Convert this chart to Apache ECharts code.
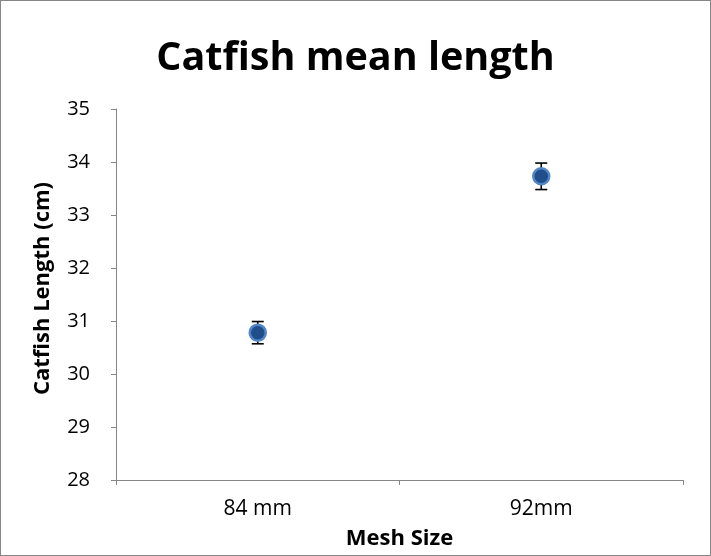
<!DOCTYPE html>
<html>
<head>
<meta charset="utf-8">
<script src="https://cdn.jsdelivr.net/npm/echarts@6/dist/echarts.min.js"></script>
<style>
html, body { margin: 0; padding: 0; background: #fff; }
#chart { width: 711px; height: 556px; box-sizing: border-box; border: 1px solid #868686; }
</style>
</head>
<body>
<div id="chart"></div>
<script>
// 数据
var categories = ['84 mm', '92mm'];
var meanLength = [30.78, 33.73];
var errLow = [30.57, 33.48];
var errHigh = [30.99, 33.98];

var chart = echarts.init(document.getElementById('chart'));
var font = '"Open Sans", "Liberation Sans", sans-serif';

var errData = [];
for (var i = 0; i < categories.length; i++) {
	errData.push([i, errLow[i], errHigh[i]]);
}

var option = {
	animation: false,
	backgroundColor: '#fff',
	title: {
		text: 'Catfish mean length',
		left: 'center',
		top: 33,
		textStyle: { fontFamily: font, fontSize: 39.5, fontWeight: 'bold', color: '#000' }
	},
	grid: { left: 115, right: 27, top: 108, bottom: 72 },
	xAxis: {
		type: 'category',
		data: categories,
		boundaryGap: true,
		name: 'Mesh Size',
		nameLocation: 'middle',
		nameGap: 48,
		nameTextStyle: { fontFamily: font, fontSize: 22, fontWeight: 'bold', color: '#000' },
		axisLine: { lineStyle: { color: '#868686', width: 1 } },
		axisTick: { show: true, length: 5, inside: false, lineStyle: { color: '#868686' } },
		axisLabel: { fontFamily: font, fontSize: 21, color: '#000', margin: 19 },
		splitLine: { show: false }
	},
	yAxis: {
		type: 'value',
		min: 28,
		max: 35,
		interval: 1,
		name: 'Catfish Length (cm)',
		nameLocation: 'middle',
		nameGap: 62,
		nameTextStyle: { fontFamily: font, fontSize: 22, fontWeight: 'bold', color: '#000', padding: [0, 0, 0, 12] },
		axisLine: { show: true, lineStyle: { color: '#868686', width: 1 } },
		axisTick: { show: true, length: 5, lineStyle: { color: '#868686' } },
		axisLabel: { fontFamily: font, fontSize: 20, color: '#000', margin: 26 },
		splitLine: { show: false }
	},
	series: [
		{
			type: 'custom',
			data: errData,
			z: 1,
			renderItem: function (params, api) {
				var x = api.value(0);
				var lo = api.coord([x, api.value(1)]);
				var hi = api.coord([x, api.value(2)]);
				var w = 6;
				var style = { stroke: '#000', lineWidth: 1.6 };
				return {
					type: 'group',
					children: [
						{ type: 'line', shape: { x1: lo[0], y1: lo[1], x2: hi[0], y2: hi[1] }, style: style },
						{ type: 'line', shape: { x1: lo[0] - w, y1: lo[1], x2: lo[0] + w, y2: lo[1] }, style: style },
						{ type: 'line', shape: { x1: hi[0] - w, y1: hi[1], x2: hi[0] + w, y2: hi[1] }, style: style }
					]
				};
			}
		},
		{
			type: 'scatter',
			data: meanLength,
			z: 2,
			symbol: 'circle',
			symbolSize: 16,
			itemStyle: { color: '#1f4e8a', borderColor: '#5285c6', borderWidth: 2.5, opacity: 1 }
		}
	]
};

chart.setOption(option);
</script>
</body>
</html>
